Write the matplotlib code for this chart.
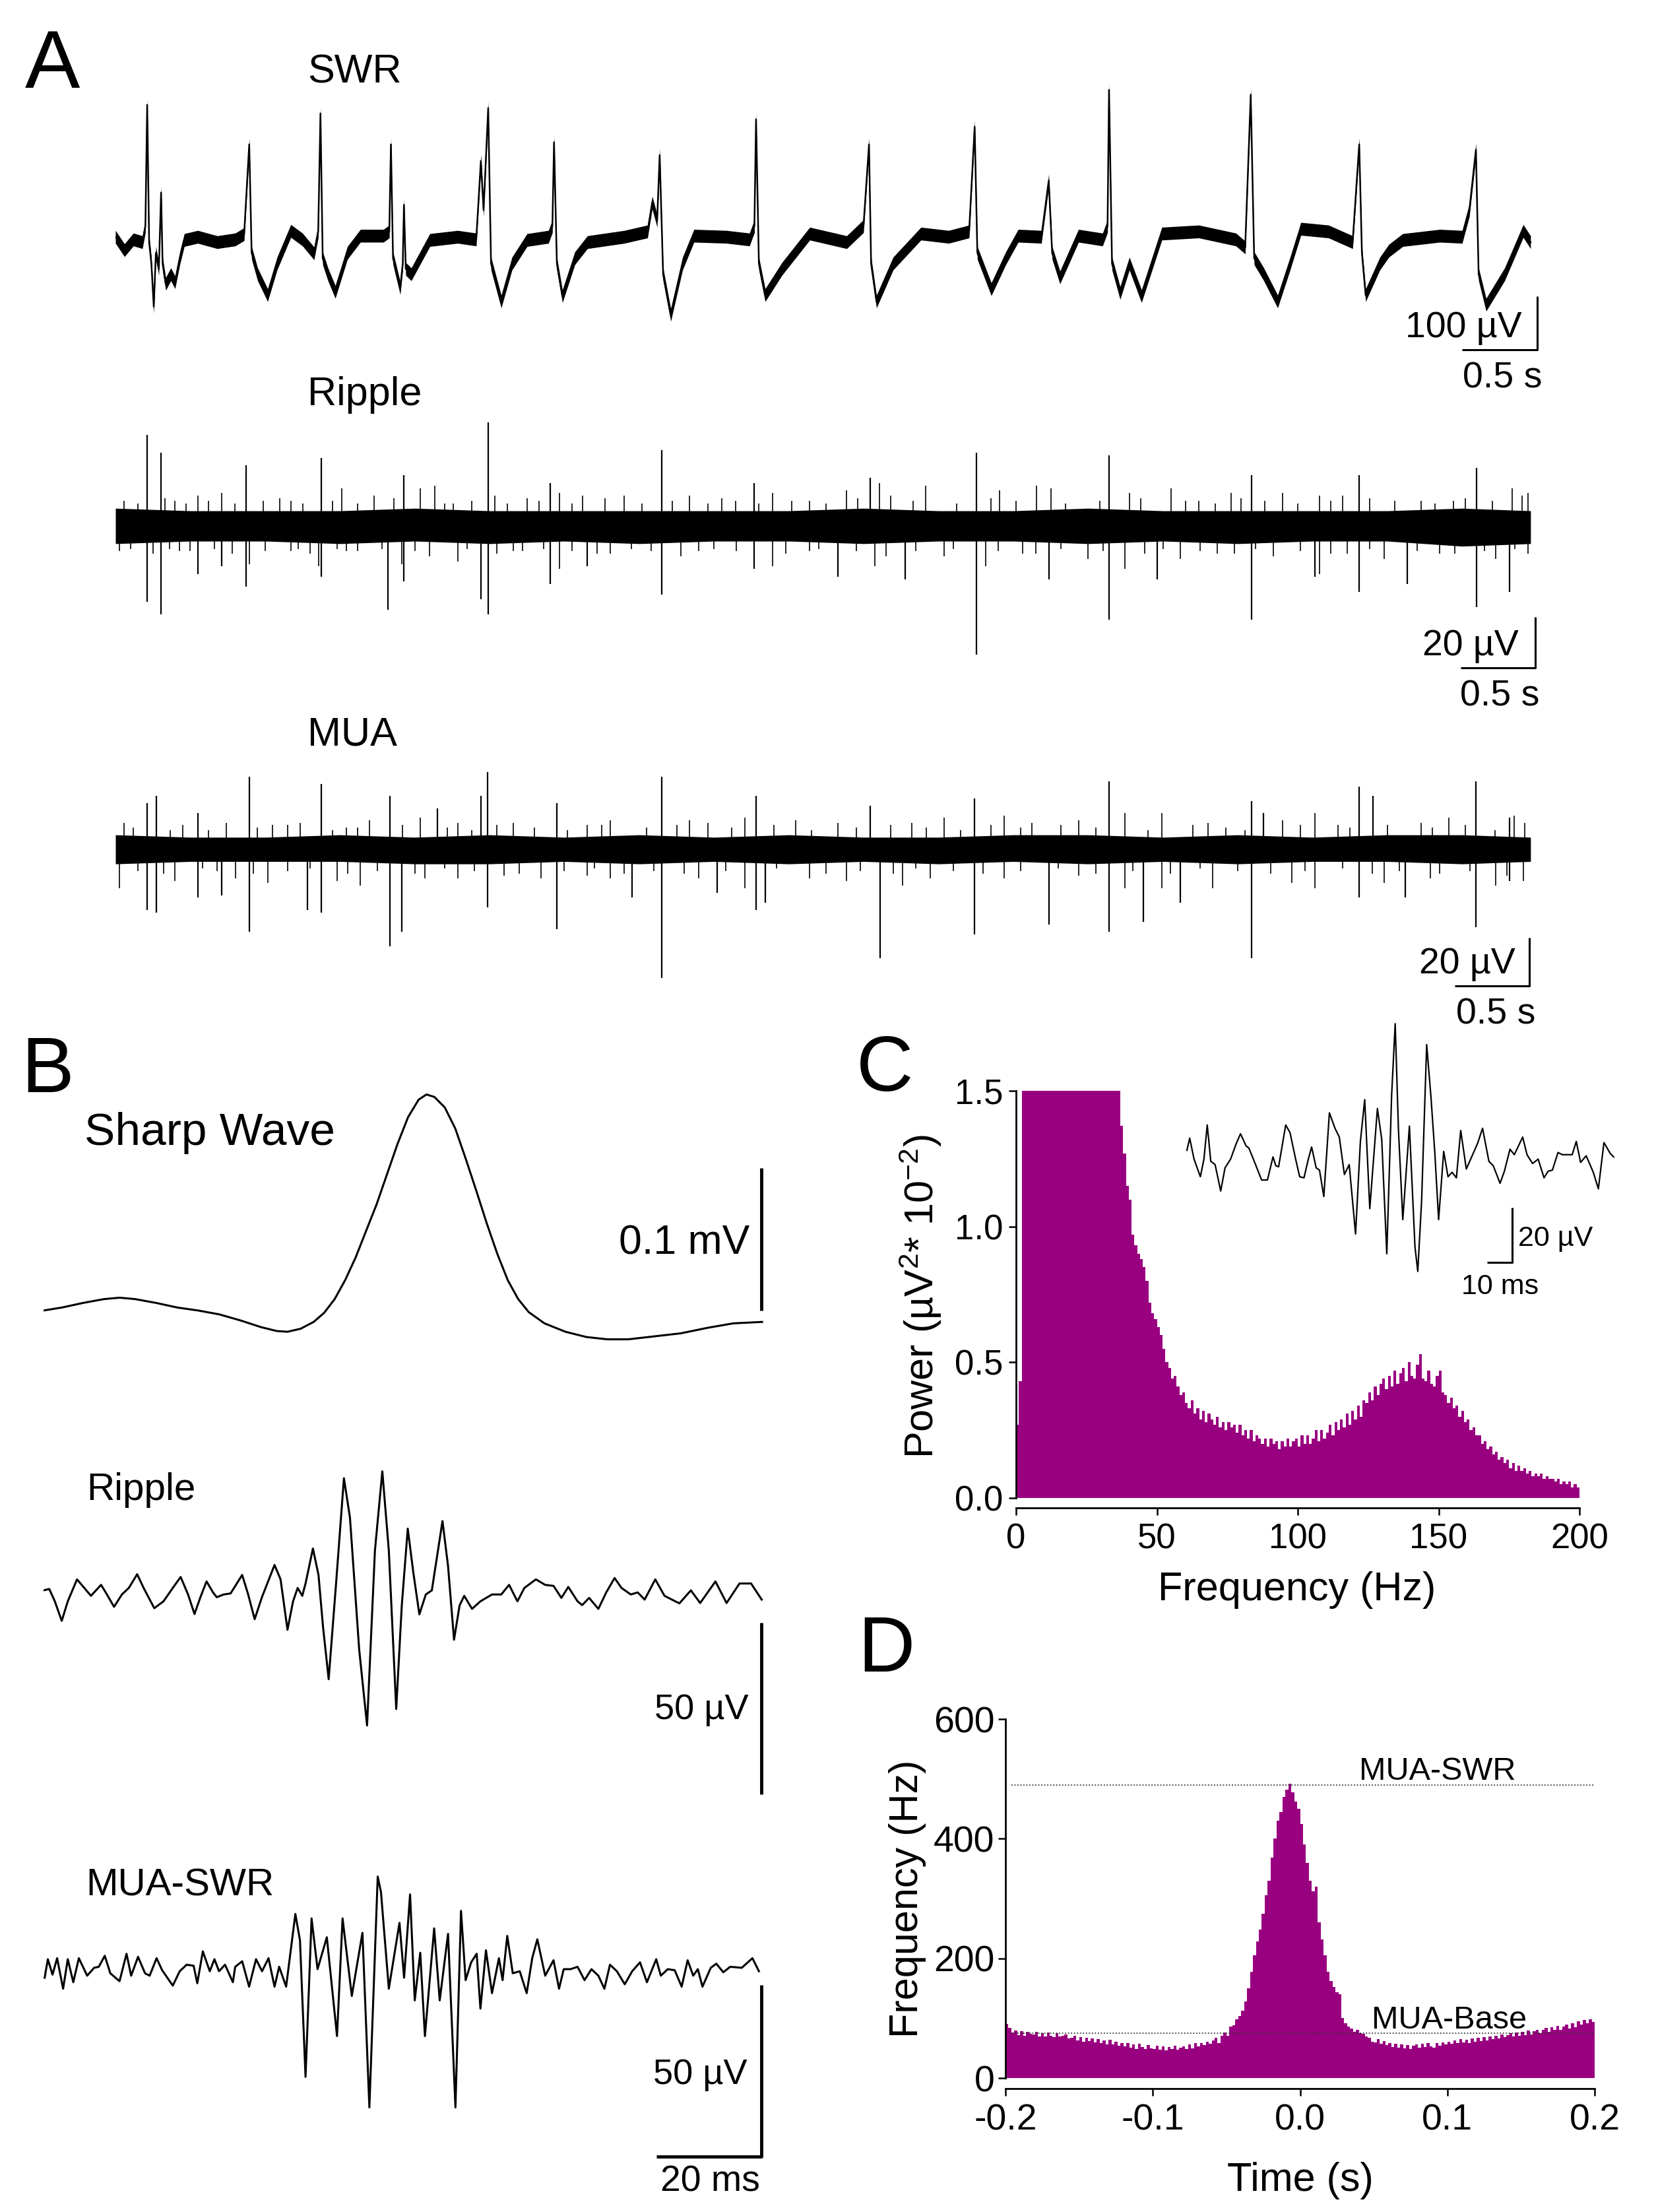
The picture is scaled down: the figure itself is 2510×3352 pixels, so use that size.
import numpy as np
import matplotlib
matplotlib.use('Agg')
import matplotlib.pyplot as plt
from matplotlib.ticker import FormatStrFormatter

plt.rcParams['font.family'] = ['Liberation Sans', 'DejaVu Sans']
plt.rcParams['mathtext.fontset'] = 'custom'
plt.rcParams['mathtext.rm'] = 'Liberation Sans'
plt.rcParams['mathtext.it'] = 'Liberation Sans:italic'
plt.rcParams['mathtext.bf'] = 'Liberation Sans:bold'
plt.rcParams['axes.unicode_minus'] = False

PURPLE = '#990080'

# ---------------- DATA ----------------
# Panel A: SWR trace key points (time s, µV)
swr_points = [
(0.00, 10),(0.06, -15),(0.12, 5),(0.18, 0),(0.20, 30),(0.212, 257),(0.225, 0),(0.24, -40),(0.256, -121),(0.27, -20),
(0.29, -50),(0.305, 93),(0.315, -40),(0.336, -78),(0.37, -60),(0.398, -75),(0.43, -30),(0.46, 4),(0.55, 10),(0.68, 0),
(0.80, 5),(0.86, 15),(0.894, 183),(0.91, -20),(0.95, -60),(1.017, -99),(1.08, -40),(1.172, 21),(1.25, 5),(1.327, -21),
(1.355, 20),(1.370, 241),(1.385, -30),(1.420, -60),(1.469, -93),(1.55, -20),(1.637, 12),(1.791, 12),(1.83, 20),(1.841, 183),
(1.855, -30),(1.903, -86),(1.92, -40),(1.928, 70),(1.94, -50),(1.977, -60),(2.101, 4),(2.287, 10),(2.411, 5),(2.442, 152),
(2.46, 60),(2.491, 251),(2.51, -40),(2.578, -111),(2.65, -40),(2.751, 4),(2.894, 10),(2.92, 30),(2.931, 187),(2.95, -40),
(2.987, -101),(3.07, -30),(3.154, 0),(3.401, 10),(3.556, 20),(3.587, 74),(3.62, 40),(3.637, 163),(3.66, -60),(3.711, -136),
(3.79, -40),(3.866, 12),(4.083, 10),(4.237, 5),(4.27, 30),(4.281, 230),(4.30, -40),(4.342, -99),(4.454, -50),(4.640, 16),
(4.887, 0),(4.999, 30),(5.036, 183),(5.05, -40),(5.086, -111),(5.197, -40),(5.383, 16),(5.569, 10),(5.705, 20),(5.742, 216),
(5.76, -20),(5.853, -88),(5.95, -30),(6.033, 12),(6.188, 10),(6.237, 115),(6.26, -20),(6.312, -66),(6.436, 12),(6.597, 5),
(6.630, 30),(6.640, 285),(6.66, -40),(6.714, -95),(6.776, -40),(6.857, -101),(6.993, 16),(7.240, 20),(7.488, 5),(7.550, -10),
(7.587, 276),(7.61, -30),(7.674, -60),(7.767, -111),(7.85, -40),(7.922, 25),(8.107, 20),(8.268, 0),(8.312, 183),(8.330, -20),
(8.355, -99),(8.45, -40),(8.510, -16),(8.603, 4),(8.850, 12),(9.00, 10),(9.048, 60),(9.092, 173),(9.11, -60),(9.160, -117),
(9.284, -60),(9.408, 21),(9.457, 0)]
swr_noise_halfwidth = 12  # µV

# Panel A: Ripple band envelope (s, µV) and spikes (s, top µV, bottom µV)
ripple_env_t  = [0, 0.5, 1.0, 1.5, 2.0, 2.5, 3.0, 3.5, 4.0, 4.5, 5.0, 5.5, 6.0, 6.5, 7.0, 7.5, 8.0, 8.5, 9.0, 9.457]
ripple_env_hi = [7, 6, 6, 6, 7, 6, 6, 6, 6, 6, 7, 6, 6, 7, 6, 6, 6, 6, 7, 6]
ripple_env_lo = [-7, -6, -6, -7, -6, -7, -6, -7, -6, -6, -7, -6, -6, -7, -6, -7, -6, -6, -8, -7]
ripple_spike_t  = [0.212, 0.305, 0.553, 0.708, 0.875, 1.376, 1.822, 1.928, 2.442, 2.491, 2.906, 3.154, 3.649, 4.268,
                   4.826, 5.042, 5.278, 5.754, 6.237, 6.640, 6.962, 7.593, 8.014, 8.312, 8.634, 9.098, 9.315]
ripple_spike_hi = [36, 29, 0, 0, 24, 27, 0, 20, 0, 41, 17, 0, 30, 17, 0, 19, 0, 29, 0, 28, 0, 20, 0, 20, 0, 23, 0]
ripple_spike_lo = [-30, -35, -19, -16, -24, -20, -33, -22, -29, -35, -23, -16, -27, -17, -20, 0, -21, -51, -21, -37,
                   -21, -37, -20, -26, -23, -32, -26]
ripple_hair_up_t = [0.058, 0.398, 0.553, 0.708, 0.986, 1.172, 1.513, 1.730, 2.039, 2.132, 2.256, 2.534, 2.751, 2.968,
                    3.123, 3.401, 3.835, 4.144, 4.392, 4.640, 4.887, 5.104, 5.414, 5.909, 6.157, 6.250, 6.776, 7.055,
                    7.240, 7.457, 7.798, 8.045, 8.200, 8.727, 8.943, 9.333, 9.439,
                    0.15, 0.33, 0.47, 0.62, 0.80, 1.10, 1.25, 1.45, 1.62, 1.86, 2.20, 2.38, 2.62, 2.83, 3.05, 3.27,
                    3.52, 3.72, 3.96, 4.05, 4.30, 4.52, 4.75, 4.96, 5.18, 5.33, 5.62, 5.85, 6.02, 6.35, 6.58, 6.85,
                    7.15, 7.35, 7.52, 7.68, 7.90, 8.12, 8.38, 8.55, 8.82, 9.02, 9.20, 9.40]
ripple_hair_up_v = [10, 10, 12, 13, 10, 10, 15, 12, 15, 16, 9, 12, 11, 13, 12, 12, 12, 10, 13, 10, 14, 17, 16, 14, 16,
                    15, 13, 15, 10, 13, 13, 12, 12, 10, 10, 15, 13,
                    9, 11, 9, 10, 9, 11, 9, 10, 9, 11, 9, 10, 9, 10, 9, 11,
                    9, 10, 9, 11, 9, 10, 9, 11, 12, 10, 9, 11, 10, 9, 10, 11,
                    10, 9, 11, 10, 9, 10, 11, 10, 9, 11, 10, 12]
ripple_hair_dn_t = [0.027, 0.429, 0.894, 1.172, 1.358, 1.544, 1.915, 2.287, 2.658, 2.968, 3.308, 3.649, 3.897, 4.268,
                    4.392, 4.640, 5.073, 5.538, 5.816, 6.064, 6.497, 6.745, 7.117, 7.364, 7.736, 8.045, 8.231, 8.479,
                    8.850, 9.222, 9.439,
                    0.10, 0.25, 0.36, 0.50, 0.66, 0.78, 1.00, 1.22, 1.30, 1.48, 1.62, 1.78, 2.00, 2.10, 2.35, 2.55,
                    2.72, 2.86, 3.05, 3.22, 3.45, 3.58, 3.78, 4.00, 4.15, 4.48, 4.70, 4.95, 5.15, 5.35, 5.60, 5.90,
                    6.15, 6.32, 6.60, 6.88, 7.00, 7.25, 7.48, 7.62, 7.92, 8.12, 8.38, 8.70, 8.95, 9.15, 9.35]
ripple_hair_dn_v = [-10, -10, -15, -10, -16, -10, -15, -14, -10, -17, -11, -16, -10, -16, -16, -10, -16, -12, -16, -11,
                    -13, -17, -13, -11, -12, -19, -11, -13, -11, -13, -11,
                    -9, -11, -9, -10, -9, -11, -10, -9, -11, -9, -10, -9, -10, -12, -9, -11,
                    -10, -9, -10, -11, -9, -10, -12, -9, -10, -11, -9, -10, -12, -10, -9, -10,
                    -11, -9, -10, -11, -9, -10, -11, -9, -10, -11, -9, -10, -11, -10, -9]

# Panel A: MUA band envelope and spikes
mua_env_t  = [0, 0.5, 1.0, 1.5, 2.0, 2.5, 3.0, 3.5, 4.0, 4.5, 5.0, 5.5, 6.0, 6.5, 7.0, 7.5, 8.0, 8.5, 9.0, 9.457]
mua_env_hi = [6, 5, 5, 6, 5, 6, 5, 6, 5, 6, 5, 5, 6, 6, 5, 6, 5, 6, 6, 5]
mua_env_lo = [-6, -5, -5, -5, -6, -6, -5, -6, -5, -6, -5, -6, -5, -6, -5, -6, -5, -5, -6, -5]
mua_spike_t  = [0.212, 0.274, 0.553, 0.708, 0.894, 1.284, 1.376, 1.835, 1.915, 2.150, 2.442, 2.485, 2.949, 3.451,
                3.649, 4.020, 4.281, 4.343, 5.042, 5.110, 5.742, 6.237, 6.640, 6.869, 7.117, 7.593, 7.674, 8.312,
                8.404, 8.621, 9.092, 9.315]
mua_spike_hi = [19, 22, 15, 0, 30, 0, 27, 22, 0, 17, 22, 32, 19, 0, 30, 0, 22, 0, 18, 0, 21, 0, 28, 0, 0, 20, 15, 26,
                22, 0, 28, 13]
mua_spike_lo = [-25, -26, -20, -19, -34, -25, -26, -40, -34, 0, 0, -24, -33, -20, -53, -18, -25, -22, 0, -45, -35, -31,
                -34, -30, -22, -45, 0, -20, 0, -20, -32, -13]
mua_hair_up_t = [0.058, 0.367, 0.739, 1.048, 1.234, 1.544, 1.699, 2.039, 2.287, 2.658, 3.154, 3.308, 3.835, 3.959,
                 4.206, 4.547, 4.826, 5.321, 5.538, 5.940, 6.126, 6.436, 6.745, 6.993, 7.302, 7.798, 8.014, 8.169,
                 8.727, 8.912, 9.346,
                 0.12, 0.45, 0.62, 0.95, 1.15, 1.45, 1.62, 1.92, 2.22, 2.38, 2.55, 2.80, 3.02, 3.25, 3.55, 3.75,
                 4.12, 4.40, 4.65, 4.95, 5.18, 5.42, 5.65, 5.85, 6.05, 6.32, 6.55, 6.90, 7.20, 7.42, 7.55, 7.92,
                 8.25, 8.50, 8.80, 9.02, 9.22, 9.42]
mua_hair_up_v = [11, 8, 11, 10, 11, 9, 12, 13, 11, 11, 10, 12, 12, 11, 13, 12, 11, 11, 13, 14, 11, 12, 15, 15, 11, 12,
                 15, 10, 11, 13, 14,
                 9, 10, 8, 9, 10, 8, 9, 10, 9, 8, 10, 9, 8, 10, 9, 10,
                 9, 10, 8, 9, 10, 9, 8, 10, 9, 10, 9, 8, 10, 9, 8, 10,
                 9, 10, 9, 10, 8, 11]
mua_hair_dn_t = [0.027, 0.398, 0.801, 1.017, 1.482, 1.637, 2.070, 2.287, 2.596, 2.844, 3.154, 3.308, 3.897, 4.206,
                 4.640, 4.887, 5.259, 5.445, 5.940, 6.436, 6.745, 6.993, 7.333, 7.860, 8.014, 8.479, 8.788, 9.222, 9.408,
                 0.15, 0.32, 0.58, 0.68, 0.92, 1.15, 1.30, 1.55, 1.75, 2.00, 2.20, 2.40, 2.70, 3.00, 3.20, 3.40,
                 3.60, 3.80, 4.08, 4.42, 4.75, 4.98, 5.20, 5.35, 5.60, 5.80, 6.05, 6.30, 6.55, 6.80, 7.05, 7.25,
                 7.50, 7.72, 7.95, 8.20, 8.40, 8.58, 8.85, 9.05, 9.30]
mua_hair_dn_v = [-16, -13, -12, -14, -13, -15, -12, -12, -11, -12, -11, -12, -12, -16, -12, -13, -15, -12, -12, -11,
                 -16, -16, -16, -14, -16, -14, -12, -15, -13,
                 -9, -10, -8, -9, -10, -9, -8, -10, -9, -10, -8, -9, -10, -9, -8, -10,
                 -9, -10, -9, -8, -10, -9, -10, -8, -9, -10, -9, -8, -10, -9, -10, -8,
                 -9, -10, -9, -8, -10, -9, -10, -9, -11]

# Panel B traces (time ms, µV)
sharp_wave = [(0, 0), (3.5, 2.1), (7.5, 5.3), (11.5, 8.0), (14.5, 9.0), (17.5, 8.0), (21.5, 5.3), (25.5, 2.1),
              (29.5, 0), (33.5, -2.7), (37.5, -6.9), (41.5, -11.7), (44.5, -14.4), (46.5, -14.9), (49.0, -12.8),
              (51.5, -8.0), (53.5, -1.6), (55.5, 8.0), (57.5, 21.3), (59.5, 37.2), (61.5, 55.9), (63.5, 74.5),
              (65.5, 95.8), (67.5, 117.0), (69.5, 135.7), (71.5, 147.9), (73.0, 151.6), (74.5, 149.9), (76.5, 142.5),
              (78.5, 127.7), (80.5, 106.4), (82.5, 84.1), (84.5, 61.2), (86.5, 39.9), (88.5, 21.3), (90.5, 8.0),
              (92.5, -1.1), (95.5, -9.0), (99.5, -14.9), (103.5, -18.6), (107.5, -20.2), (111.5, -20.2),
              (116.5, -18.1), (121.5, -16.0), (126.5, -12.2), (131.5, -9.0), (137.0, -8.0)]

ripple_b = [(0.0, 0.6), (1.09, 1.0), (2.15, -2.6), (3.47, -8.3), (4.62, -2.6), (6.38, 3.8), (7.61, 1.6), (9.03, -1.0),
            (10.97, 2.2), (11.85, 0), (13.44, -4.2), (14.94, -0.6), (16.26, 1.3), (17.85, 5.3), (19.08, 1.3),
            (21.11, -4.6), (22.87, -2.6), (24.64, 1.3), (26.14, 4.5), (27.55, -0.6), (28.78, -6.3), (29.93, -1.3),
            (31.08, 3.2), (32.31, 0), (33.02, -1.4), (34.34, -0.6), (35.66, -0.3), (37.87, 5.1), (39.01, -0.6),
            (40.25, -7.8), (41.66, -1.3), (44.04, 8.0), (45.19, 3.8), (46.51, -10.9), (47.57, -2.6), (48.45, 1.3),
            (49.33, -1.0), (49.95, 2.6), (51.36, 12.8), (52.42, 5.1), (53.30, -10.3), (54.36, -25.3), (55.77, 2.6),
            (57.27, 33.3), (58.42, 21.8), (60.18, -16.7), (61.68, -38.8), (63.18, 12.2), (64.59, 35.3), (65.83, 12.2),
            (67.24, -34.0), (68.30, -3.8), (69.44, 18.6), (70.50, 5.8), (71.65, -6.4), (72.88, -0.6), (74.03, 0.6),
            (76.06, 20.8), (77.12, 7.7), (78.26, -13.8), (79.32, -3.8), (80.20, -1.0), (81.70, -4.8), (83.29, -2.6),
            (85.50, -0.6), (87.26, -0.6), (88.76, 2.2), (90.35, -2.6), (91.67, 1.3), (93.87, 3.8), (95.64, 2.2),
            (97.23, 1.9), (98.73, -1.6), (100.05, 1.6), (101.81, -2.6), (102.69, -3.7), (104.02, -1.6), (105.78, -4.8),
            (107.28, 0), (108.87, 4.2), (110.19, 1.3), (111.96, -0.6), (113.28, 0), (114.60, -2.1), (116.63, 3.8),
            (118.39, -1.0), (121.22, -3.2), (123.42, 0.6), (125.19, -3.1), (128.10, 3.2), (130.22, -3.1),
            (132.69, 2.6), (134.89, 2.6), (136.92, -2.1)]

mua_swr_b = [(0.21, -1.9), (0.82, 3.5), (1.71, -1.0), (2.59, 3.8), (3.73, -5.1), (4.62, 3.5), (5.67, -3.2), (6.73, 3.8),
             (8.32, -1.3), (9.64, 1.0), (10.53, 1.3), (11.67, 4.5), (12.73, -0.6), (14.49, -2.9), (15.82, 5.1),
             (16.70, -1.3), (18.02, 4.2), (19.35, -0.6), (20.23, -1.3), (21.55, 3.8), (22.61, 0.3), (24.64, -4.2),
             (25.96, 0), (27.28, 1.9), (28.61, 1.6), (29.31, -3.5), (30.37, 5.8), (31.69, 0), (32.58, 3.5), (33.46, 0),
             (34.60, 1.9), (36.10, -3.2), (36.54, 1.3), (37.87, 2.9), (39.19, -4.5), (40.51, 3.5), (41.66, 0),
             (42.89, 3.8), (44.04, -4.5), (44.92, 1.3), (46.25, -4.5), (48.01, 16.7), (48.89, 9.0), (49.95, -30.8),
             (51.10, 15.4), (52.24, 0.6), (54.01, 9.9), (55.95, -18.9), (57.01, 15.4), (58.77, -7.2), (60.80, 11.2),
             (62.12, -39.7), (63.71, 27.6), (64.33, 23.1), (65.83, -5.1), (67.86, 14.1), (68.74, -1.9), (69.88, 22.4),
             (70.77, -8.5), (71.82, 5.4), (72.71, -18.9), (74.47, 12.5), (75.53, -8.5), (77.12, 10.9), (78.53, -39.7),
             (79.59, 17.6), (80.47, -2.6), (81.53, 2.6), (82.58, 5.1), (83.29, -10.9), (84.35, 6.1), (85.50, -6.4),
             (86.82, 3.8), (87.52, -2.6), (88.41, 10.3), (89.46, -0.6), (90.79, 0), (92.11, -6.4), (93.17, 3.8),
             (94.14, 9.3), (95.64, -1.3), (97.23, 3.2), (98.28, -5.1), (99.17, 0.6), (100.49, 0.6), (101.81, 1.3),
             (103.14, -2.6), (104.46, 0.6), (105.78, -1.3), (106.93, -5.1), (107.99, 1.9), (109.31, 0), (110.81, -3.8),
             (112.22, 0), (113.72, 2.6), (115.04, -3.2), (116.81, 3.5), (117.69, -1.3), (119.01, 0.6), (120.33, 0.3),
             (121.66, -4.5), (122.80, 3.2), (123.86, -1.3), (124.74, 0.6), (125.63, -4.5), (127.21, 1.0),
             (128.27, 2.2), (129.60, -0.3), (130.92, 1.3), (133.12, 1.0), (135.15, 3.8), (136.39, 0)]

# Panel C inset ripple (ms, µV)
inset_ripple = [(0, 2.4), (1.1, 6.8), (2.8, -0.8), (5.3, -7.2), (6.7, -0.8), (8.0, 11.6), (9.4, -1.6), (11.1, -2.8),
                (13.3, -12.4), (15.0, -4.0), (17.2, -0.8), (19.4, 4.8), (21.1, 8.4), (23.3, 4.0), (24.4, 3.2),
                (27.2, -3.2), (29.4, -8.4), (31.7, -8.4), (33.9, 0), (35.0, -3.2), (36.1, -3.6), (38.9, 11.6),
                (40.6, 8.8), (42.8, -0.8), (44.4, -7.2), (46.1, -7.6), (47.8, -0.8), (49.1, 3.6), (50.9, -4.0),
                (52.2, -4.8), (53.9, -14.4), (56.1, 16.0), (58.3, 10.4), (60.0, 7.2), (62.0, -6.4), (63.9, -2.8),
                (66.4, -28.0), (68.3, 5.6), (70.0, 20.8), (72.0, -18.8), (75.0, 17.6), (76.7, 6.4), (78.7, -35.2),
                (80.6, 22.4), (82.0, 48.4), (83.3, 9.6), (85.0, -22.8), (87.6, 11.2), (89.8, -32.8), (90.9, -41.6),
                (92.4, -16.0), (94.4, 40.8), (96.1, 21.6), (97.6, 1.6), (99.1, -22.8), (101.1, 2.0), (102.8, -7.2),
                (104.4, -5.6), (106.1, -7.6), (107.8, 9.6), (110.0, -4.4), (114.4, 4.8), (116.4, 10.4), (118.9, -1.6),
                (120.6, -3.2), (123.3, -9.6), (125.0, -5.2), (127.2, 2.8), (128.9, 0.8), (132.2, 7.2), (133.9, 0.8),
                (136.1, -2.4), (138.3, -0.8), (140.6, -7.6), (142.2, -5.2), (143.9, -4.8), (146.1, 1.6), (147.8, 0.8),
                (151.7, 0.8), (153.3, 5.6), (155.0, -2.0), (157.2, 0.4), (160.0, -5.6), (162.0, -11.6), (164.2, 5.2),
                (166.7, 1.2), (168.0, 0)]

# Panel C: power spectrum, 1 Hz bins starting at 0 Hz (µV² × 10⁻²; display clipped at 1.5)
power_c = ([0.27, 0.43] + [1.5] * 35 +
    [1.37, 1.27, 1.15, 1.10, 0.97, 0.93, 0.90, 0.88, 0.85, 0.80, 0.72, 0.68, 0.66, 0.63, 0.60,
     0.55, 0.50, 0.48, 0.44, 0.45, 0.41, 0.38, 0.39, 0.35, 0.33, 0.36, 0.31, 0.33, 0.29, 0.32,
     0.28, 0.31, 0.29, 0.27, 0.30, 0.26, 0.28, 0.25, 0.28, 0.26, 0.27, 0.24, 0.27, 0.23, 0.25,
     0.22, 0.25, 0.21, 0.23, 0.22, 0.20, 0.22, 0.19, 0.22, 0.20, 0.21, 0.18, 0.21, 0.19, 0.22,
     0.19, 0.21, 0.22, 0.19, 0.23, 0.20, 0.23, 0.20, 0.22, 0.25, 0.21, 0.25, 0.22, 0.24, 0.27,
     0.23, 0.28, 0.25, 0.29, 0.26, 0.31, 0.27, 0.32, 0.29, 0.34, 0.30, 0.36, 0.35, 0.39, 0.36,
     0.41, 0.38, 0.42, 0.44, 0.40, 0.45, 0.41, 0.47, 0.42, 0.46, 0.48, 0.43, 0.50, 0.45, 0.44,
     0.49, 0.53, 0.44, 0.43, 0.47, 0.42, 0.41, 0.45, 0.47, 0.39, 0.38, 0.35, 0.37, 0.33, 0.34,
     0.30, 0.32, 0.28, 0.29, 0.25, 0.26, 0.23, 0.23, 0.20, 0.21, 0.18, 0.19, 0.16, 0.17, 0.14,
     0.15, 0.13, 0.14, 0.11, 0.13, 0.10, 0.12, 0.10, 0.11, 0.09, 0.10, 0.08, 0.09, 0.08, 0.09,
     0.07, 0.08, 0.07, 0.07, 0.06, 0.07, 0.05, 0.06, 0.05, 0.06, 0.04, 0.05, 0.04])
power_c_bin_hz = 1.0
c_xticks = [0, 50, 100, 150, 200]
c_yticks = [0.0, 0.5, 1.0, 1.5]

# Panel D: MUA rate histogram, 2 ms bins starting at -0.2 s (Hz)
rate_d = [90, 84, 76, 79, 72, 78, 71, 77, 74, 73,
          77, 70, 75, 69, 76, 71, 68, 75, 70, 71,
          73, 66, 67, 71, 63, 68, 61, 67, 62, 66,
          60, 65, 59, 63, 56, 64, 56, 61, 54, 59,
          53, 58, 51, 56, 49, 57, 52, 48, 55, 50,
          49, 54, 47, 53, 46, 52, 48, 54, 47, 51,
          53, 48, 56, 50, 58, 53, 59, 55, 61, 57,
          63, 67, 59, 71, 76, 71, 86, 88, 98, 104,
          112, 128, 150, 178, 205, 228, 248, 275, 305, 330,
          368, 400, 430, 445, 470, 482, 492, 478, 462, 450,
          425, 390, 360, 330, 312, 320, 260, 232, 205, 178,
          162, 152, 143, 140, 100, 92, 86, 83, 77, 81,
          75, 74, 69, 67, 61, 60, 65, 57, 62, 55,
          59, 52, 57, 51, 56, 50, 55, 49, 54, 56,
          51, 57, 52, 58, 53, 51, 59, 54, 60, 56,
          61, 57, 63, 58, 65, 60, 64, 59, 66, 61,
          67, 62, 68, 63, 69, 65, 71, 66, 73, 68,
          72, 75, 69, 76, 71, 77, 72, 79, 73, 78,
          80, 75, 81, 84, 77, 85, 80, 87, 81, 86,
          89, 83, 91, 85, 95, 89, 97, 92, 98, 94]
rate_d_bin_s = 0.002
rate_d_start = -0.2
ref_levels = [490, 75]
ref_labels = ['MUA-SWR', 'MUA-Base']
ref_label_x = [0.040, 0.0486]
d_xticks = [-0.2, -0.1, 0.0, 0.1, 0.2]
d_yticks = [0, 200, 400, 600]

# ---------------- FIGURE ----------------
W, H = 2510, 3352
fig = plt.figure(figsize=(W / 100, H / 100), dpi=100, facecolor='white')


def px_axes(left, top, right, bottom):
    return fig.add_axes([left / W, 1 - bottom / H, (right - left) / W, (bottom - top) / H])


def ftext(x, y, s, **kw):
    kw.setdefault('va', 'baseline')
    return fig.text(x / W, 1 - y / H, s, **kw)


def xy(points):
    a = np.array(points, dtype=float)
    return a[:, 0], a[:, 1]


# Panel labels
ftext(38, 133, 'A', fontsize=90)
ftext(32, 1655, 'B', fontsize=86)
ftext(1298, 1653, 'C', fontsize=86)
ftext(1300, 2533, 'D', fontsize=86)

# ---- Panel A ----
A_XMAX = (2420 - 175) / 226.8
# SWR
ax = px_axes(175, 60, 2420, 620)
ax.axis('off')
ax.set_xlim(0, A_XMAX)
ax.set_ylim(-312.3, 379.0)
t, v = xy(swr_points)
ax.fill_between(t, v - swr_noise_halfwidth, v + swr_noise_halfwidth, color='k', lw=0)
ax.plot(t, v, color='k', lw=1.8)
ax.plot([9.0, 9.5, 9.5], [-201, -201, -101], color='k', lw=2.2, solid_capstyle='butt')
ftext(466, 125, 'SWR', fontsize=44)
ftext(2307, 511, '100 µV', fontsize=40, ha='right')
ftext(2337, 587, '0.5 s', fontsize=40, ha='right')


def draw_band_trace(ax, env_t, env_hi, env_lo, sp_t, sp_hi, sp_lo, up_t, up_v, dn_t, dn_v):
    ax.fill_between(env_t, env_lo, env_hi, color='k', lw=0)
    ax.vlines(sp_t, sp_lo, sp_hi, color='k', lw=1.6)
    ax.vlines(up_t, 0, up_v, color='k', lw=1.2)
    ax.vlines(dn_t, dn_v, 0, color='k', lw=1.2)


# Ripple
ax = px_axes(175, 620, 2420, 1040)
ax.axis('off')
ax.set_xlim(0, A_XMAX)
ax.set_ylim(-63.4, 46.2)
draw_band_trace(ax, ripple_env_t, ripple_env_hi, ripple_env_lo, ripple_spike_t, ripple_spike_hi, ripple_spike_lo,
                ripple_hair_up_t, ripple_hair_up_v, ripple_hair_dn_t, ripple_hair_dn_v)
ax.plot([8.99, 9.49, 9.49], [-56.1, -56.1, -36.1], color='k', lw=2.2, solid_capstyle='butt')
ftext(466, 614, 'Ripple', fontsize=44)
ftext(2302, 993, '20 µV', fontsize=40, ha='right')
ftext(2333, 1069, '0.5 s', fontsize=40, ha='right')

# MUA
ax = px_axes(175, 1100, 2420, 1570)
ax.axis('off')
ax.set_xlim(0, A_XMAX)
ax.set_ylim(-77.1, 51.0)
draw_band_trace(ax, mua_env_t, mua_env_hi, mua_env_lo, mua_spike_t, mua_spike_hi, mua_spike_lo,
                mua_hair_up_t, mua_hair_up_v, mua_hair_dn_t, mua_hair_dn_v)
ax.plot([8.95, 9.45, 9.45], [-56.4, -56.4, -36.4], color='k', lw=2.2, solid_capstyle='butt')
ftext(466, 1129, 'MUA', fontsize=44)
ftext(2297, 1475, '20 µV', fontsize=40, ha='right')
ftext(2327, 1551, '0.5 s', fontsize=40, ha='right')

# ---- Panel B ----
B_XMAX = (1200 - 66) / 7.95
ax = px_axes(66, 1600, 1200, 2060)
ax.axis('off')
ax.set_xlim(0, B_XMAX)
ax.set_ylim(-34.3, 178.7)
t, v = xy(sharp_wave)
ax.plot(t, v, color='k', lw=2.2, solid_joinstyle='round')
ax.plot([136.9, 136.9], [0, 100], color='k', lw=3.5, solid_capstyle='butt')
ftext(128, 1735, 'Sharp Wave', fontsize=50)
ftext(1136, 1900, '0.1 mV', fontsize=45, ha='right')

ax = px_axes(66, 2200, 1200, 2740)
ax.axis('off')
ax.set_xlim(0, B_XMAX)
ax.set_ylim(-62.9, 41.0)
t, v = xy(ripple_b)
ax.plot(t, v, color='k', lw=2.2, solid_joinstyle='round')
ax.plot([136.9, 136.9], [-58.8, -8.8], color='k', lw=3.5, solid_capstyle='butt')
ftext(131, 2273, 'Ripple', fontsize=42)
ftext(1135, 2605, '50 µV', fontsize=39, ha='right')

ax = px_axes(66, 2800, 1200, 3350)
ax.axis('off')
ax.set_xlim(0, B_XMAX)
ax.set_ylim(-69.8, 36.0)
t, v = xy(mua_swr_b)
ax.plot(t, v, color='k', lw=2.2)
ax.plot([116.9, 136.9, 136.9], [-54.0, -54.0, -4.0], color='k', lw=3.5, solid_capstyle='butt')
ftext(130, 2872, 'MUA-SWR', fontsize=42)
ftext(1133, 3158, '50 µV', fontsize=39, ha='right')
ftext(1076, 3320, '20 ms', fontsize=40, ha='center')


# ---- Panel C ----
def style_axes(ax, offset_pt):
    for s in ['top', 'right']:
        ax.spines[s].set_visible(False)
    ax.spines['bottom'].set_position(('outward', offset_pt))
    ax.spines['left'].set_linewidth(2.0)
    ax.spines['bottom'].set_linewidth(2.0)
    ax.tick_params(axis='both', direction='out', length=8, width=1.8, labelsize=38, colors='k')


ax = px_axes(1540, 1653, 2394, 2270)
edges = np.arange(len(power_c)) * power_c_bin_hz
ax.bar(edges, power_c, width=power_c_bin_hz, align='edge', color=PURPLE, lw=0)
ax.set_xlim(0, 200)
ax.set_ylim(0, 1.5)
style_axes(ax, 10.8)
ax.set_xticks(c_xticks)
ax.set_yticks(c_yticks)
ax.yaxis.set_major_formatter(FormatStrFormatter('%.1f'))
ax.tick_params(axis='y', pad=6)
ax.tick_params(axis='x', pad=8)
ax.patch.set_alpha(0)
ftext(1966, 2425, 'Frequency (Hz)', fontsize=44, ha='center')
fig.text(1395 / W, 1 - 1965 / H, 'Power (µV$^{2}$* 10$^{-2}$)', fontsize=44, rotation=90,
         ha='center', va='center')

# inset
ax = px_axes(1790, 1530, 2470, 1970)
ax.axis('off')
ax.set_xlim(-2.34, 174.3)
ax.set_ylim(-52.0, 53.5)
t, v = xy(inset_ripple)
ax.plot(t, v, color='k', lw=1.6)
ax.plot([118.1, 128.1, 128.1], [-38.4, -38.4, -18.4], color='k', lw=2.2, solid_capstyle='butt')
ftext(2301, 1888, '20 µV', fontsize=31)
ftext(2274, 1961, '10 ms', fontsize=31, ha='center')

# ---- Panel D ----
ax = px_axes(1524, 2605, 2417, 3149)
edges = rate_d_start + np.arange(len(rate_d)) * rate_d_bin_s
ax.bar(edges, rate_d, width=rate_d_bin_s, align='edge', color=PURPLE, lw=0)
ax.set_xlim(-0.2, 0.2)
ax.set_ylim(0, 600)
style_axes(ax, 11.5)
ax.set_xticks(d_xticks)
ax.set_yticks(d_yticks)
ax.xaxis.set_major_formatter(FormatStrFormatter('%.1f'))
ax.tick_params(axis='y', pad=4, labelsize=40)
ax.tick_params(axis='x', pad=8, labelsize=40)
for lvl in ref_levels:
    ax.hlines(lvl, -0.196, 0.2, colors='#333333', linestyles=(0, (1, 1.5)), lw=1.3)
ax.text(ref_label_x[0], 498, ref_labels[0], fontsize=35, va='baseline')
ax.text(ref_label_x[1], 83, ref_labels[1], fontsize=35, va='baseline')
ax.patch.set_alpha(0)
ftext(1971, 3320, 'Time (s)', fontsize=44, ha='center')
fig.text(1375 / W, 1 - 2877 / H, 'Frequency (Hz)', fontsize=44, rotation=90, ha='center', va='center')

fig.savefig('out.png', dpi=100, facecolor='white')
